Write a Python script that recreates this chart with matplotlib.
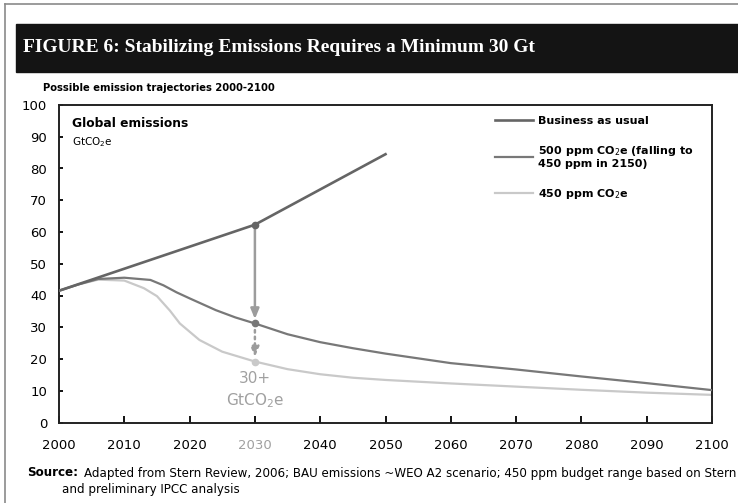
import matplotlib
matplotlib.use("Agg")
import matplotlib.pyplot as plt
from matplotlib.patches import Rectangle
from matplotlib.lines import Line2D

plt.rcParams['font.family'] = ['DejaVu Sans']

# Business as usual (GtCO2e)
bau_years = [2000, 2030, 2050]
bau = [41.5, 62.3, 84.5]

# 500 ppm CO2e (falling to 450 ppm in 2150)
p500_years = [2000, 2003, 2006, 2010, 2014, 2016, 2018, 2020, 2024, 2027,
              2030, 2035, 2040, 2045, 2050, 2060, 2070, 2080, 2090, 2100]
p500 = [41.5, 43.5, 45.2, 45.6, 44.9, 43.2, 41.0, 39.1, 35.4, 33.1,
        31.2, 27.8, 25.3, 23.4, 21.7, 18.7, 16.7, 14.5, 12.4, 10.2]

# 450 ppm CO2e
p450_years = [2000, 2003, 2006, 2010, 2013, 2015, 2017, 2018.5, 2021.5, 2025,
              2030, 2035, 2040, 2045, 2050, 2060, 2070, 2080, 2090, 2100]
p450 = [41.5, 43.5, 45.0, 44.7, 42.3, 39.8, 35.2, 31.2, 26.0, 22.3,
        19.2, 16.8, 15.2, 14.1, 13.4, 12.3, 11.3, 10.3, 9.4, 8.7]

gap_year = 2030
x_ticks = list(range(2000, 2101, 10))
y_ticks = list(range(0, 101, 10))

c_bau = '#656565'
c_500 = '#787878'
c_450 = '#c9c9c9'
c_arrow = '#9c9c9c'

W, H = 738, 503
fig = plt.figure(figsize=(W / 100, H / 100), dpi=100)

# outer frame + title bar
fig.add_artist(Line2D([5 / W, 1], [1 - 4 / H, 1 - 4 / H], transform=fig.transFigure, color='#8a8a8a', lw=1.2))
fig.add_artist(Line2D([5 / W, 5 / W], [0, 1 - 4 / H], transform=fig.transFigure, color='#8a8a8a', lw=1.2))
fig.add_artist(Rectangle((16 / W, 1 - 72 / H), 1, 48 / H, transform=fig.transFigure, color='#141414'))
fig.text(23 / W, 1 - 48 / H, 'FIGURE 6: Stabilizing Emissions Requires a Minimum 30 Gt',
         color='white', family='Liberation Serif', weight='bold', fontsize=14, va='center')
fig.text(43 / W, 1 - 88 / H, 'Possible emission trajectories 2000-2100', weight='bold', fontsize=7.2, va='center')

ax = fig.add_axes([59 / W, 80.5 / H, 653 / W, 317.5 / H])

ax.plot(p450_years, p450, color=c_450, lw=1.6, label='450 ppm CO$_2$e', zorder=2)
ax.plot(p500_years, p500, color=c_500, lw=1.6, label='500 ppm CO$_2$e (falling to\n450 ppm in 2150)', zorder=3)
ax.plot(bau_years, bau, color=c_bau, lw=1.9, label='Business as usual', zorder=4)

# arrows at 2030
i500 = p500_years.index(gap_year)
i450 = p450_years.index(gap_year)
ibau = bau_years.index(gap_year)
ax.annotate('', xy=(gap_year, p500[i500] + 1.4), xytext=(gap_year, bau[ibau]),
            arrowprops=dict(arrowstyle='-|>,head_length=0.6,head_width=0.25', color=c_arrow,
                            lw=1.8, shrinkA=0, shrinkB=0), zorder=5)
ax.annotate('', xy=(gap_year, p450[i450] + 1.4), xytext=(gap_year, p500[i500]),
            arrowprops=dict(arrowstyle='-|>,head_length=0.6,head_width=0.25', color=c_arrow,
                            lw=1.8, ls=':', shrinkA=0, shrinkB=0), zorder=5)
ax.plot([gap_year], [bau[ibau]], 'o', color=c_bau, ms=4.5, zorder=6)
ax.plot([gap_year], [p500[i500]], 'o', color=c_500, ms=4.5, zorder=6)
ax.plot([gap_year], [p450[i450]], 'o', color=c_450, ms=4.5, zorder=6)
ax.text(gap_year, 13.9, '30+', ha='center', va='center', color='#a0a0a0', fontsize=11)
ax.text(gap_year, 7.0, 'GtCO$_2$e', ha='center', va='center', color='#a0a0a0', fontsize=11)

ax.text(0.02, 0.943, 'Global emissions', transform=ax.transAxes, weight='bold', fontsize=8.8, va='center')
ax.text(0.02, 0.883, 'GtCO$_2$e', transform=ax.transAxes, fontsize=7.5, va='center')

handles, labels = ax.get_legend_handles_labels()
ax.legend(handles[::-1], labels[::-1], loc='upper left', bbox_to_anchor=(495 / W, 1 - 116 / H),
          bbox_transform=fig.transFigure, frameon=False, prop={'weight': 'bold', 'size': 8},
          handlelength=3.4, handletextpad=0.45, labelspacing=1.6, borderpad=0, borderaxespad=0)

ax.set_xlim(2000, 2100)
ax.set_ylim(0, 100)
ax.set_xticks(x_ticks)
ax.set_yticks(y_ticks)
ax.tick_params(axis='x', direction='in', length=5, width=1.3, labelsize=9.5, pad=12)
ax.tick_params(axis='y', direction='in', length=3, width=1.3, labelsize=9.5, pad=8.5)
ax.xaxis.set_ticks_position('bottom')
ax.yaxis.set_ticks_position('left')
for lbl in ax.get_xticklabels():
    if lbl.get_text() == str(gap_year):
        lbl.set_color('#a0a0a0')
for s in ax.spines.values():
    s.set_linewidth(1.4)
    s.set_color('#222222')

fig.text(27 / W, 1 - 473 / H, 'Source:', weight='bold', fontsize=8.6, va='center')
fig.text(84 / W, 1 - 473 / H, 'Adapted from Stern Review, 2006; BAU emissions ~WEO A2 scenario; '
         '450 ppm budget range based on Stern', fontsize=8.6, va='center')
fig.text(62 / W, 1 - 489 / H, 'and preliminary IPCC analysis', fontsize=8.6, va='center')

fig.savefig('out.png', dpi=100)
